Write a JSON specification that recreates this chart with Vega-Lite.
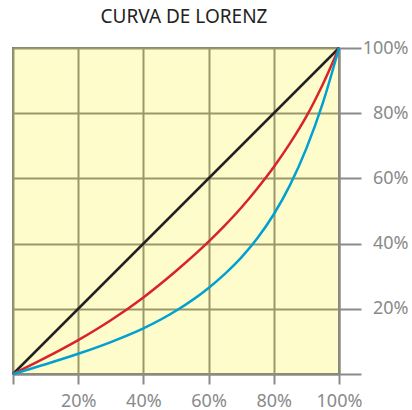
{
  "$schema": "https://vega.github.io/schema/vega-lite/v6.json",
  "width": 326,
  "height": 326,
  "autosize": {"type": "none"},
  "padding": {"left": 13, "top": 48, "right": 73, "bottom": 36},
  "background": "white",
  "title": {
    "text": "CURVA DE LORENZ",
    "font": "Noto Sans",
    "fontSize": 19,
    "fontWeight": "normal",
    "color": "#222222",
    "anchor": "middle",
    "dx": 8,
    "offset": 12
  },
  "config": {
    "view": {"fill": "#fffccc", "stroke": "#7a7a7a", "strokeWidth": 2},
    "axis": {
      "labelFont": "Noto Sans",
      "labelFontSize": 18,
      "labelColor": "#8a8a8a",
      "domainColor": "#8a8a8a",
      "domainWidth": 2,
      "tickColor": "#8a8a8a",
      "tickWidth": 2,
      "gridColor": "#9a976b",
      "gridWidth": 2,
      "gridOpacity": 1,
      "title": null
    }
  },
  "data": {
    "values": [
      {"x": 0, "y": 0, "s": "igualdad"},
      {"x": 100, "y": 100, "s": "igualdad"},
      {"x": 0, "y": 0, "s": "A"},
      {"x": 10, "y": 5.0, "s": "A"},
      {"x": 20, "y": 10.4, "s": "A"},
      {"x": 30, "y": 16.5, "s": "A"},
      {"x": 40, "y": 23.5, "s": "A"},
      {"x": 50, "y": 31.6, "s": "A"},
      {"x": 60, "y": 40.6, "s": "A"},
      {"x": 65, "y": 45.6, "s": "A"},
      {"x": 70, "y": 51.0, "s": "A"},
      {"x": 75, "y": 57.0, "s": "A"},
      {"x": 80, "y": 63.5, "s": "A"},
      {"x": 85, "y": 70.8, "s": "A"},
      {"x": 90, "y": 79.0, "s": "A"},
      {"x": 95, "y": 88.8, "s": "A"},
      {"x": 100, "y": 100, "s": "A"},
      {"x": 0, "y": 0, "s": "B"},
      {"x": 10, "y": 3.0, "s": "B"},
      {"x": 20, "y": 6.2, "s": "B"},
      {"x": 30, "y": 9.8, "s": "B"},
      {"x": 40, "y": 14.0, "s": "B"},
      {"x": 50, "y": 19.4, "s": "B"},
      {"x": 60, "y": 26.4, "s": "B"},
      {"x": 65, "y": 30.7, "s": "B"},
      {"x": 70, "y": 35.7, "s": "B"},
      {"x": 75, "y": 41.7, "s": "B"},
      {"x": 80, "y": 49.0, "s": "B"},
      {"x": 85, "y": 58.0, "s": "B"},
      {"x": 90, "y": 69.2, "s": "B"},
      {"x": 95, "y": 83.0, "s": "B"},
      {"x": 100, "y": 100, "s": "B"}
    ]
  },
  "mark": {"type": "line", "interpolate": "monotone", "strokeWidth": 2.5},
  "encoding": {
    "x": {
      "field": "x",
      "type": "quantitative",
      "scale": {"domain": [0, 100], "nice": false},
      "axis": {
        "orient": "bottom",
        "values": [0, 20, 40, 60, 80, 100],
        "tickSize": 10,
        "labelPadding": 8,
        "labelExpr": "datum.value == 0 ? '' : datum.value + '%'",
        "labelFlush": false,
        "labelOverlap": false
      }
    },
    "y": {
      "field": "y",
      "type": "quantitative",
      "scale": {"domain": [0, 100], "nice": false},
      "axis": {
        "orient": "right",
        "values": [0, 20, 40, 60, 80, 100],
        "tickSize": 22,
        "labelPadding": 47,
        "labelAlign": "right",
        "labelBaseline": "middle",
        "labelExpr": "datum.value == 0 ? '' : datum.value + '%'",
        "labelFlush": false,
        "labelOverlap": false
      }
    },
    "color": {
      "field": "s",
      "type": "nominal",
      "scale": {"domain": ["B", "A", "igualdad"], "range": ["#00a0d0", "#d8232a", "#222222"]},
      "legend": null
    },
    "order": {"field": "x"}
  }
}
